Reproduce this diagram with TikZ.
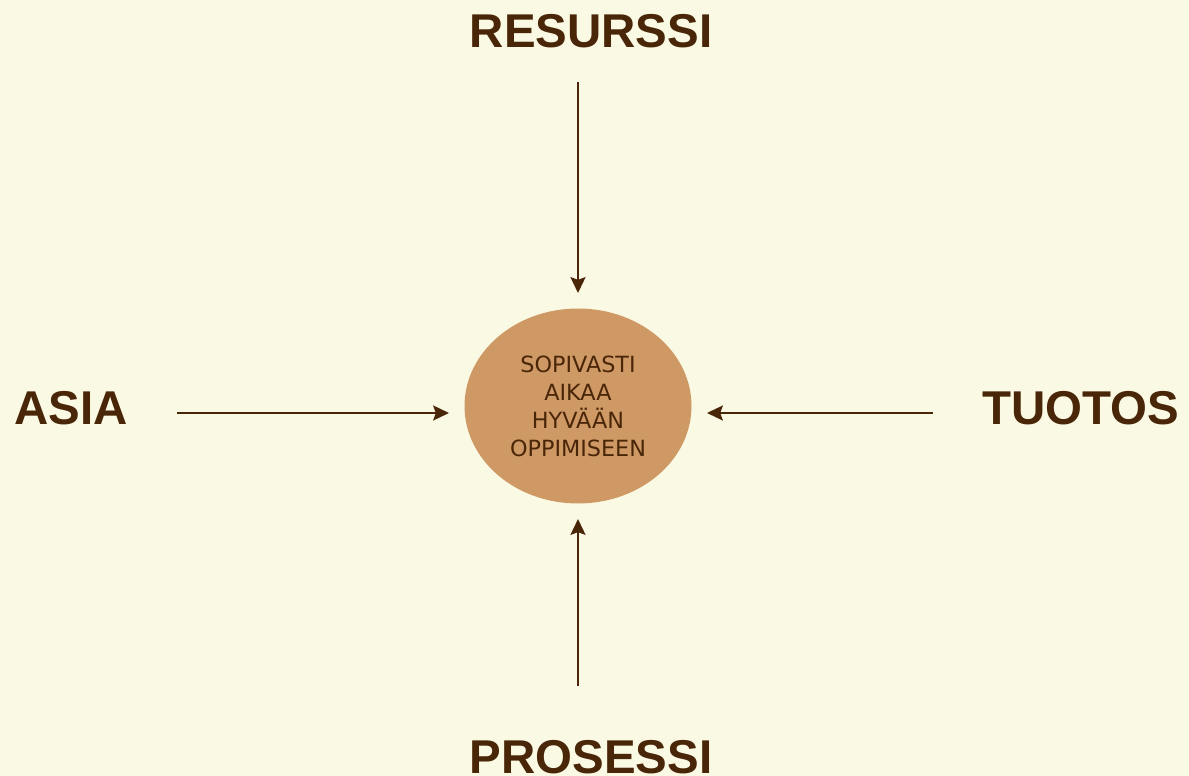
\documentclass[tikz,border=0pt]{standalone}
\usepackage{fontspec}
\setmainfont{Liberation Sans}
\newfontfamily\ellfont{DejaVu Sans}
\usetikzlibrary{arrows.meta,shapes.geometric}
\definecolor{bgc}{HTML}{FAF9E3}
\definecolor{txtc}{HTML}{4A2608}
\definecolor{ellc}{HTML}{CF9966}
\newdimen\pxu \pxu=0.02cm
\tikzset{
  lbl/.style={text=txtc, font=\fontsize{27}{30}\selectfont\bfseries, inner sep=0pt, anchor=base},
  arr/.style={draw=txtc, line width=1.3pt, -{Stealth[length=9pt,width=8.5pt,inset=1.5pt]}},
  centre/.style={ellipse, fill=ellc, minimum width=227\pxu, minimum height=195\pxu, inner sep=0pt,
    text=txtc, align=center, font=\ellfont\fontsize{12.7}{15.9}\selectfont}
}
\begin{document}
\begin{tikzpicture}[x=0.02cm,y=-0.02cm]
\fill[bgc] (0,0) rectangle (1189,776);
\useasboundingbox (0,0) rectangle (1189,776);
\node[centre] (c) at (578,406) {SOPIVASTI\\AIKAA\\HYVÄÄN\\OPPIMISEEN};
\node[lbl] (res) at (591,48) {RESURSSI};
\node[lbl] (asia) at (71,424) {ASIA};
\node[lbl] (tuo) at (1081,424) {TUOTOS};
\node[lbl] (pro) at (591,773) {PROSESSI};
\coordinate (ctop) at (578,82);
\coordinate (cleft) at (177,413);
\coordinate (cright) at (933,413);
\coordinate (cbot) at (578,686);
\coordinate (etop) at (578,293);
\coordinate (eleft) at (449,413);
\coordinate (eright) at (707,413);
\coordinate (ebot) at (578,519);
\draw[arr] (ctop) -- (etop);
\draw[arr] (cleft) -- (eleft);
\draw[arr] (cright) -- (eright);
\draw[arr] (cbot) -- (ebot);
\end{tikzpicture}
\end{document}
